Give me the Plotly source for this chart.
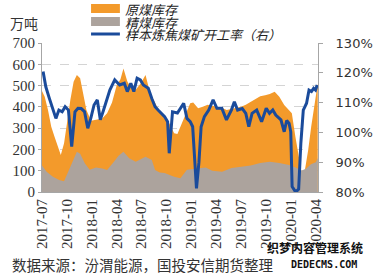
import plotly.graph_objects as go

# ---------------- data ----------------
raw_dates = ["2017-07-01","2017-07-11","2017-07-23","2017-08-04","2017-08-16","2017-08-27","2017-09-08",
             "2017-09-20","2017-10-01","2017-10-13","2017-10-25","2017-11-06","2017-11-18","2017-11-29",
             "2017-12-11","2017-12-28","2018-01-15","2018-02-07","2018-02-25","2018-03-15","2018-04-01",
             "2018-04-15","2018-04-26","2018-05-10","2018-05-23","2018-06-10","2018-06-28","2018-07-16",
             "2018-08-02","2018-08-20","2018-09-06","2018-09-24","2018-10-11","2018-10-29","2018-11-10",
             "2018-11-21","2018-12-09","2018-12-27","2019-01-07","2019-01-25","2019-02-11","2019-03-01",
             "2019-03-18","2019-04-05","2019-04-23","2019-05-10","2019-05-28","2019-06-14","2019-07-02",
             "2019-07-19","2019-08-06","2019-08-24","2019-09-10","2019-09-28","2019-10-15","2019-11-02",
             "2019-11-19","2019-12-07","2019-12-25","2020-01-04","2020-01-17","2020-01-29","2020-02-09",
             "2020-02-21","2020-03-04","2020-03-15","2020-03-27","2020-04-08"]
raw_coal = [475, 448, 385, 307, 260, 213, 174,
            229, 338, 432, 518, 550, 534, 464,
            385, 335, 340, 345, 370, 420, 500,
            530, 580, 520, 490, 480, 510, 550,
            464, 417, 377, 346, 323, 276, 272,
            307, 362, 417, 420, 393, 400, 410,
            405, 400, 395, 385, 390, 395, 400,
            410, 425, 440, 450, 455, 460, 471,
            448, 409, 385, 370, 260, 166, 89,
            103, 197, 307, 417, 510]

clean_dates = ["2017-07-01","2017-07-18","2017-08-10","2017-09-02","2017-09-20","2017-10-07","2017-10-25",
               "2017-11-06","2017-11-18","2017-12-05","2017-12-23","2018-01-15","2018-02-07","2018-02-25",
               "2018-03-22","2018-04-08","2018-04-26","2018-05-17","2018-06-10","2018-07-01","2018-07-16",
               "2018-08-08","2018-08-20","2018-09-06","2018-09-24","2018-10-29","2018-11-21","2018-12-15",
               "2019-01-07","2019-02-22","2019-03-18","2019-04-23","2019-05-28","2019-07-02","2019-08-06",
               "2019-09-10","2019-10-15","2019-11-19","2019-12-25","2020-01-18","2020-02-08","2020-02-26",
               "2020-03-14","2020-04-01","2020-04-08"]
clean_coal = [125, 95, 72, 56, 50, 100, 150,
              189, 180, 135, 105, 115, 110, 103,
              142, 170, 189, 158, 142, 155, 166,
              150, 103, 92, 89, 72, 65, 105,
              108, 115, 100, 95, 113, 119, 125,
              136, 142, 136, 127, 115, 100, 110,
              130, 140, 160]

rate_dates = ["2017-07-05","2017-07-15","2017-07-28","2017-08-09","2017-08-21","2017-09-01","2017-09-13",
              "2017-09-24","2017-10-06","2017-10-18","2017-10-30","2017-11-10","2017-11-22","2017-12-04",
              "2017-12-16","2017-12-27","2018-01-08","2018-01-20","2018-01-31","2018-02-12","2018-02-24",
              "2018-03-07","2018-03-25","2018-04-12","2018-04-29","2018-05-10","2018-05-23","2018-06-03",
              "2018-06-15","2018-06-27","2018-07-08","2018-07-26","2018-08-08","2018-08-20","2018-08-31",
              "2018-09-12","2018-09-24","2018-10-05","2018-10-11","2018-10-17","2018-10-23","2018-11-10",
              "2018-11-21","2018-12-03","2018-12-15","2018-12-27","2019-01-05","2019-01-13","2019-01-19",
              "2019-01-28","2019-02-05","2019-02-17","2019-03-05","2019-03-21","2019-04-04","2019-04-22",
              "2019-05-09","2019-05-27","2019-06-07","2019-06-19","2019-07-06","2019-07-19","2019-07-30",
              "2019-08-11","2019-08-28","2019-09-15","2019-10-02","2019-10-14","2019-10-26","2019-11-06",
              "2019-11-25","2019-12-07","2019-12-16","2019-12-25","2019-12-31","2020-01-05","2020-01-15",
              "2020-01-23","2020-01-29","2020-02-06","2020-02-15","2020-02-27","2020-03-07","2020-03-16",
              "2020-03-24","2020-03-31","2020-04-06"]
rate = [120.4, 115.3, 111.4, 108.1, 104.7, 107.5, 106.9,
        108.6, 107.5, 95.2, 106.9, 108.1, 108.0, 107.0,
        101.4, 104.7, 109.2, 110.9, 104.2, 107.5, 111.4,
        114.2, 117.6, 115.9, 116.5, 113.7, 116.5, 113.7,
        118.2, 117.6, 115.9, 114.8, 111.4, 108.6, 107.5,
        106.4, 105.3, 103.6, 93.0, 100.0, 106.9, 106.5,
        108.1, 109.8, 104.7, 103.6, 101.9, 90.7, 81.2,
        90.0, 101.9, 105.3, 107.5, 110.9, 108.1, 108.1,
        104.2, 107.5, 110.3, 107.5, 108.0, 106.4, 101.9,
        106.4, 107.5, 103.6, 108.1, 106.4, 107.5, 105.8,
        104.2, 100.2, 104.0, 103.0, 100.2, 81.8, 80.4,
        80.4, 81.0, 96.3, 107.5, 109.8, 114.2, 113.7,
        114.8, 114.2, 115.9]

tick_dates = ["2017-07-01","2017-10-01","2018-01-01","2018-04-01","2018-07-01","2018-10-01",
              "2019-01-01","2019-04-01","2019-07-01","2019-10-01","2020-01-01","2020-04-01"]
tick_text = ["2017-07","2017-10","2018-01","2018-04","2018-07","2018-10",
             "2019-01","2019-04","2019-07","2019-10","2020-01","2020-04"]
left_ticks = [0, 100, 200, 300, 400, 500, 600, 700]
right_ticks = [80, 90, 100, 110, 120, 130]
right_text = ["80%", "90%", "100%", "110%", "120%", "130%"]

legend_names = ["原煤库存", "精煤库存", "样本炼焦煤矿开工率（右）"]
unit_label = "万吨"
source_text = "数据来源：汾渭能源，国投安信期货整理"

# ---------------- style ----------------
ORANGE = "#f39a2b"
GRAY = "#aca39d"
BLUE = "#1a4b9b"
W, H = 385, 277
ML, MR, MT, MB = 42, 56, 43, 85
PW, PH = W - ML - MR, H - MT - MB


def px(x):
    return (x - ML) / PW


def py(y):
    return (H - MB - y) / PH


fig = go.Figure()
fig.add_trace(go.Scatter(x=raw_dates, y=raw_coal, mode="lines", line=dict(width=0, color=ORANGE),
                         fill="tozeroy", fillcolor=ORANGE, name=legend_names[0], showlegend=False))
fig.add_trace(go.Scatter(x=clean_dates, y=clean_coal, mode="lines", line=dict(width=0, color=GRAY),
                         fill="tozeroy", fillcolor=GRAY, name=legend_names[1], showlegend=False))
fig.add_trace(go.Scatter(x=rate_dates, y=rate, mode="lines", line=dict(width=3, color=BLUE),
                         yaxis="y2", name=legend_names[2], showlegend=False))

shapes = [
    dict(type="rect", xref="paper", yref="paper", x0=px(93), x1=px(123), y0=py(13), y1=py(4),
         fillcolor=ORANGE, line=dict(width=0)),
    dict(type="rect", xref="paper", yref="paper", x0=px(93), x1=px(123), y0=py(26), y1=py(17),
         fillcolor=GRAY, line=dict(width=0)),
    dict(type="line", xref="paper", yref="paper", x0=px(93), x1=px(123), y0=py(34), y1=py(34),
         line=dict(width=3, color=BLUE)),
]
annotations = []
for i, name in enumerate(legend_names):
    annotations.append(dict(xref="paper", yref="paper", x=px(126), y=py(9.5 + 12.5 * i), text="<i>%s</i>" % name,
                            showarrow=False, xanchor="left", yanchor="middle",
                            font=dict(family="Noto Sans CJK SC", size=13, color="#222222")))
annotations.append(dict(xref="paper", yref="paper", x=px(7), y=py(23), text=unit_label, showarrow=False,
                        xanchor="left", yanchor="middle",
                        font=dict(family="Noto Sans CJK SC", size=14, color="#333333")))
annotations.append(dict(xref="paper", yref="paper", x=px(9), y=py(264), text=source_text, showarrow=False,
                        xanchor="left", yanchor="middle",
                        font=dict(family="Noto Sans CJK SC", size=14.5, color="#333333")))
annotations.append(dict(xref="paper", yref="paper", x=px(326), y=py(248), text="<b>织梦内容管理系统</b>",
                        showarrow=False, xanchor="center", yanchor="middle",
                        font=dict(family="Noto Sans CJK SC", size=12, color="#111111")))
annotations.append(dict(xref="paper", yref="paper", x=px(335), y=py(264), text="<b>DEDECMS.COM</b>",
                        showarrow=False, xanchor="center", yanchor="middle",
                        font=dict(family="DejaVu Sans Mono", size=10, color="#111111")))

fig.update_layout(
    width=W, height=H,
    margin=dict(l=ML, r=MR, t=MT, b=MB, pad=0),
    paper_bgcolor="white", plot_bgcolor="white",
    shapes=shapes, annotations=annotations,
    xaxis=dict(type="date", range=["2017-07-01", "2020-04-09"], tickvals=tick_dates, ticktext=tick_text,
               tickangle=-90, showgrid=False, showline=True, linecolor="#a6a6a6", linewidth=1,
               ticks="", tickfont=dict(family="Liberation Serif", size=15, color="#333333"), zeroline=False),
    yaxis=dict(range=[0, 700], tickvals=left_ticks, showgrid=True, gridcolor="#d4d4d4", griddash="dash",
               gridwidth=1, showline=True, linecolor="#a6a6a6", linewidth=1, ticks="outside", ticklen=3,
               tickcolor="#a6a6a6", zeroline=False,
               tickfont=dict(family="Liberation Serif", size=15, color="#333333")),
    yaxis2=dict(range=[80, 130], tickvals=right_ticks, ticktext=right_text, overlaying="y", side="right",
                showgrid=False, showline=True, linecolor="#a6a6a6", linewidth=1, ticks="outside", ticklen=4,
                tickcolor="#a6a6a6", zeroline=False, ticklabelstandoff=10,
                tickfont=dict(family="DejaVu Sans", size=13, color="#333333")),
)

fig.write_html("out.html")
